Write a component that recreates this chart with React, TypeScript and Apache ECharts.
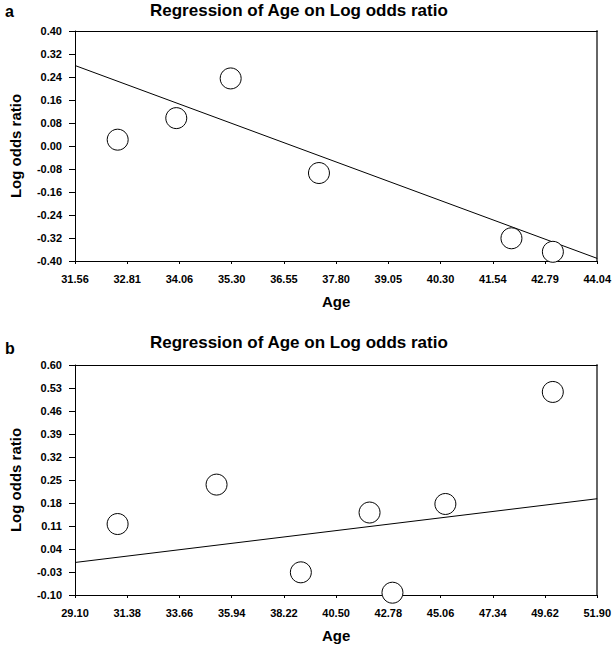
import React, { useEffect, useRef } from "react";
import * as echarts from "echarts";

// Panel a data
const ageA = [32.58, 33.98, 35.28, 37.39, 41.99, 42.98];
const lorA = [0.022, 0.097, 0.235, -0.094, -0.321, -0.368];
const fitAgeA = [31.56, 44.04];
const fitLorA = [0.28, -0.391];
const xTicksA = ["31.56", "32.81", "34.06", "35.30", "36.55", "37.80", "39.05", "40.30", "41.54", "42.79", "44.04"];
const yTicksA = ["-0.40", "-0.32", "-0.24", "-0.16", "-0.08", "0.00", "0.08", "0.16", "0.24", "0.32", "0.40"];

// Panel b data
const ageB = [30.96, 35.28, 38.96, 41.96, 42.96, 45.27, 49.96];
const lorB = [0.116, 0.236, -0.031, 0.151, -0.093, 0.177, 0.518];
const fitAgeB = [29.1, 51.9];
const fitLorB = [-0.001, 0.193];
const xTicksB = ["29.10", "31.38", "33.66", "35.94", "38.22", "40.50", "42.78", "45.06", "47.34", "49.62", "51.90"];
const yTicksB = ["-0.10", "-0.03", "0.04", "0.11", "0.18", "0.25", "0.32", "0.39", "0.46", "0.53", "0.60"];

const titleText = "Regression of Age on Log odds ratio";
const FONT = "'Liberation Sans', Arial, sans-serif";

function panelAxes(gi: number, xt: string[], yt: string[]) {
  const xAxes = [
    {
      type: "value",
      gridIndex: gi,
      position: "bottom",
      min: 0,
      max: xt.length - 1,
      interval: 1,
      name: "Age",
      nameLocation: "middle",
      nameGap: 33,
      nameTextStyle: { fontFamily: FONT, fontWeight: "bold", fontSize: 15, color: "#000" },
      axisLine: { show: true, lineStyle: { color: "#000", width: 1 } },
      axisTick: { show: true, length: 3, inside: false, lineStyle: { color: "#000" } },
      axisLabel: {
        show: true,
        margin: 12,
        fontFamily: FONT,
        fontWeight: "bold",
        fontSize: 11,
        color: "#000",
        showMinLabel: true,
        showMaxLabel: true,
        formatter: (v: number) => xt[Math.round(v)],
      },
      splitLine: { show: false },
    },
    {
      type: "value",
      gridIndex: gi,
      position: "top",
      min: parseFloat(xt[0]),
      max: parseFloat(xt[xt.length - 1]),
      axisLine: { show: true, onZero: false, lineStyle: { color: "#000", width: 1 } },
      axisTick: { show: false },
      axisLabel: { show: false },
      splitLine: { show: false },
    },
  ];
  const yAxes = [
    {
      type: "value",
      gridIndex: gi,
      position: "left",
      min: 0,
      max: yt.length - 1,
      interval: 1,
      name: "Log odds ratio",
      nameLocation: "middle",
      nameRotate: 90,
      nameGap: 52,
      nameTextStyle: { fontFamily: FONT, fontWeight: "bold", fontSize: 15, color: "#000" },
      axisLine: { show: true, lineStyle: { color: "#000", width: 1 } },
      axisTick: { show: true, length: 6, inside: false, lineStyle: { color: "#000" } },
      axisLabel: {
        show: true,
        margin: 13,
        fontFamily: FONT,
        fontWeight: "bold",
        fontSize: 11,
        color: "#000",
        showMinLabel: true,
        showMaxLabel: true,
        formatter: (v: number) => yt[Math.round(v)],
      },
      splitLine: { show: false },
    },
    {
      type: "value",
      gridIndex: gi,
      position: "right",
      min: parseFloat(yt[0]),
      max: parseFloat(yt[yt.length - 1]),
      axisLine: { show: true, onZero: false, lineStyle: { color: "#666", width: 2 } },
      axisTick: { show: false },
      axisLabel: { show: false },
      splitLine: { show: false },
    },
  ];
  return { xAxes, yAxes };
}

export default function App() {
  const ref = useRef<HTMLDivElement>(null);
  useEffect(() => {
    if (!ref.current) return;
    const chart = echarts.init(ref.current, null, { renderer: "svg" });
    const a = panelAxes(0, xTicksA, yTicksA);
    const b = panelAxes(1, xTicksB, yTicksB);
    const zipA = ageA.map((x, i) => [x, lorA[i]]);
    const zipB = ageB.map((x, i) => [x, lorB[i]]);
    const fitA = fitAgeA.map((x, i) => [x, fitLorA[i]]);
    const fitB = fitAgeB.map((x, i) => [x, fitLorB[i]]);
    const titleStyle = { fontFamily: FONT, fontWeight: "bold", fontSize: 17, color: "#000" };
    chart.setOption({
      animation: false,
      backgroundColor: "#fff",
      title: [
        { text: titleText, left: 150, top: 2, padding: 0, textStyle: titleStyle },
        { text: titleText, left: 150, top: 334, padding: 0, textStyle: titleStyle },
        { text: "a", left: 5, top: 3, padding: 0, textStyle: { ...titleStyle, fontSize: 16 } },
        { text: "b", left: 5, top: 340, padding: 0, textStyle: { ...titleStyle, fontSize: 16 } },
      ],
      grid: [
        { left: 66, top: 31, width: 533, height: 230 },
        { left: 66, top: 365, width: 533, height: 230 },
      ],
      xAxis: [...a.xAxes, ...b.xAxes],
      yAxis: [...a.yAxes, ...b.yAxes],
      series: [
        {
          type: "line",
          xAxisIndex: 1,
          yAxisIndex: 1,
          data: fitA,
          symbol: "none",
          lineStyle: { color: "#000", width: 1 },
          z: 2,
        },
        {
          type: "scatter",
          xAxisIndex: 1,
          yAxisIndex: 1,
          data: zipA,
          symbol: "circle",
          symbolSize: 21,
          itemStyle: { color: "#fff", borderColor: "#000", borderWidth: 1, opacity: 1 },
          z: 3,
        },
        {
          type: "line",
          xAxisIndex: 3,
          yAxisIndex: 3,
          data: fitB,
          symbol: "none",
          lineStyle: { color: "#000", width: 1 },
          z: 2,
        },
        {
          type: "scatter",
          xAxisIndex: 3,
          yAxisIndex: 3,
          data: zipB,
          symbol: "circle",
          symbolSize: 21,
          itemStyle: { color: "#fff", borderColor: "#000", borderWidth: 1, opacity: 1 },
          z: 3,
        },
      ],
    });
    return () => chart.dispose();
  }, []);
  return (
    <div
      ref={ref}
      style={{ position: "fixed", left: 0, top: 0, width: 614, height: 646, background: "#fff" }}
    />
  );
}
